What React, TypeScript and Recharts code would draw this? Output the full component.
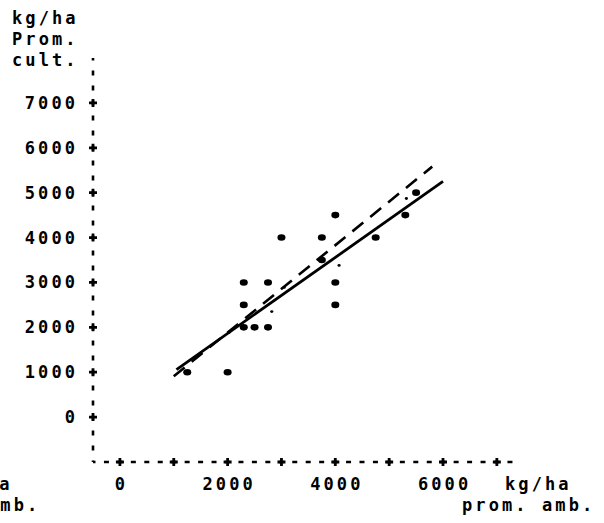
import { ScatterChart, Scatter, XAxis, YAxis, ZAxis } from "recharts";

// observed points (kg/ha)
const obsX = [1250, 2000, 2300, 2300, 2300, 2500, 2750, 2750, 3000, 3750, 3750, 4000, 4000, 4000, 4750, 5300, 5500];
const obsY = [1000, 1000, 3000, 2500, 2000, 2000, 2000, 3000, 4000, 4000, 3500, 3000, 2500, 4500, 4000, 4500, 5000];

// small dots near the fitted lines
const smallX = [2030, 2820, 3050, 4070, 5320];
const smallY = [1890, 2350, 2890, 3380, 4870];

// fitted line (solid) and dashed reference line
const solidX = [1050, 6000];
const solidY = [1060, 5250];
const dashX = [1000, 5800];
const dashY = [910, 5580];

const xTicks = [0, 1000, 2000, 3000, 4000, 5000, 6000, 7000];
const xLabelled = [0, 2000, 4000, 6000];
const yTicks = [0, 1000, 2000, 3000, 4000, 5000, 6000, 7000];

const zip = (xs: number[], ys: number[]) => xs.map((x, i) => ({ x, y: ys[i] }));

const FONT = "'DejaVu Sans Mono', monospace";
const LS = 3.1;
const txt = { fontFamily: FONT, fontWeight: 700, fontSize: 17, letterSpacing: LS, fill: "#000" };

const Plus = ({ x, y }: { x: number; y: number }) => (
  <path d={`M${x - 4},${y}L${x + 4},${y}M${x},${y - 4}L${x},${y + 4}`} stroke="#000" strokeWidth={2.8} />
);

// tickSize/tickMargin are 0, so x (y-axis) or y (x-axis) sits on the axis line
const YTick = (props: any) => {
  const { x, y, payload } = props;
  return (
    <g>
      <Plus x={x} y={y} />
      <text x={x - 18 + LS} y={y + 6} textAnchor="end" style={txt}>
        {payload.value}
      </text>
    </g>
  );
};

const XTick = (props: any) => {
  const { x, y, payload } = props;
  return (
    <g>
      <Plus x={x} y={y} />
      {xLabelled.includes(payload.value) && (
        <text x={x + LS / 2} y={y + 28} textAnchor="middle" style={txt}>
          {payload.value}
        </text>
      )}
    </g>
  );
};

const Dot = (rx: number, ry: number) => (props: any) => (
  <ellipse cx={props.cx} cy={props.cy} rx={rx} ry={ry} fill="#000" />
);

const NoDot = () => <g />;

export default function App() {
  return (
    <div style={{ width: 604, height: 523, background: "#fff" }}>
      <style>{"body{margin:0}"}</style>
      <ScatterChart width={604} height={523} margin={{ top: 58, right: 91, bottom: 41, left: 73 }}>
        <XAxis
          type="number"
          dataKey="x"
          domain={[-500, 7300]}
          ticks={xTicks}
          height={20}
          tickSize={0}
          tickMargin={0}
          tickLine={false}
          tick={<XTick />}
          axisLine={{ stroke: "#000", strokeWidth: 2.6, strokeDasharray: "5 8.45", strokeDashoffset: 2.5 }}
          interval={0}
        />
        <YAxis
          type="number"
          dataKey="y"
          domain={[-1000, 8000]}
          ticks={yTicks}
          width={20}
          tickSize={0}
          tickMargin={0}
          tickLine={false}
          tick={<YTick />}
          axisLine={{ stroke: "#000", strokeWidth: 2.6, strokeDasharray: "5 10", strokeDashoffset: 2.5 }}
          interval={0}
        />
        <ZAxis range={[40, 40]} />
        <Scatter
          data={zip(dashX, dashY)}
          line={{ stroke: "#000", strokeWidth: 2.6, strokeDasharray: "14 9" }}
          shape={NoDot}
          isAnimationActive={false}
        />
        <Scatter
          data={zip(solidX, solidY)}
          line={{ stroke: "#000", strokeWidth: 2.8 }}
          shape={NoDot}
          isAnimationActive={false}
        />
        <Scatter data={zip(obsX, obsY)} shape={Dot(4, 3.3)} isAnimationActive={false} />
        <Scatter data={zip(smallX, smallY)} shape={Dot(1.6, 1.4)} isAnimationActive={false} />
        <text x={12} y={24} style={txt}>kg/ha</text>
        <text x={12} y={45} style={txt}>Prom.</text>
        <text x={12} y={66} style={txt}>cult.</text>
        <text x={-54} y={490} style={txt}>kg/ha</text>
        <text x={-93} y={511} style={txt}>prom. amb.</text>
        <text x={505} y={490} style={txt}>kg/ha</text>
        <text x={462} y={511} style={txt}>prom. amb.</text>
      </ScatterChart>
    </div>
  );
}
